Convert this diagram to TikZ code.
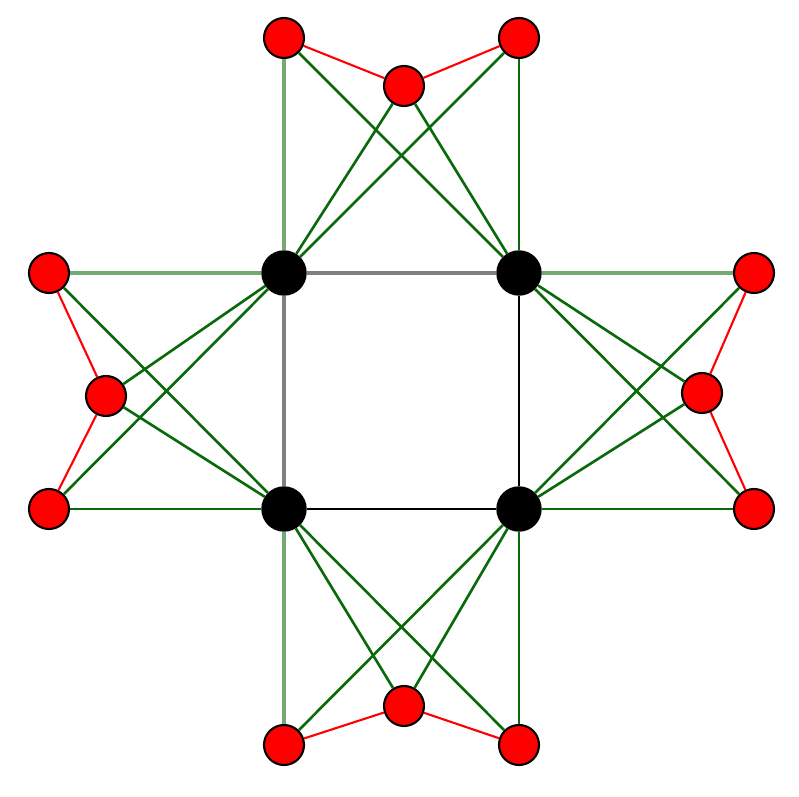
\documentclass[tikz,border=0pt]{standalone}
\usepackage{xcolor}
\usepackage{tikz}
\usetikzlibrary{positioning}

\definecolor{linkgreen}{RGB}{10,105,10}
\definecolor{fadegreen}{RGB}{115,170,115}
\tikzset{
    redpt/.style={circle, fill=red, draw=black, line width=0.6pt, minimum size=0.4cm, inner sep=0pt},
    blackpt/.style={circle, fill=black, draw=black, minimum size=0.44cm, inner sep=0pt},
    link/.style={draw=linkgreen, line width=0.75pt},
    fadelink/.style={draw=fadegreen, line width=1.1pt},
    redlink/.style={draw=red, line width=0.6pt},
    side/.style={draw=black, line width=0.75pt},
    fadeside/.style={draw=gray, line width=1.1pt}
}

\begin{document}
\begin{tikzpicture}
                    \useasboundingbox (0,0) rectangle (7.99,7.96);
                    % Square corners
                    \node[blackpt] (s1) at (2.84,5.23) {};
                    \node[blackpt] (s2) at (5.19,5.23) {};
                    \node[blackpt] (s3) at (2.84,2.87) {};
                    \node[blackpt] (s4) at (5.19,2.87) {};
                    % Top triple
                    \node[redpt] (t1) at (2.84,7.58) {};
                    \node[redpt] (t2) at (4.04,7.10) {};
                    \node[redpt] (t3) at (5.19,7.58) {};
                    % Left triple
                    \node[redpt] (l1) at (0.49,5.23) {};
                    \node[redpt] (l2) at (1.06,4.00) {};
                    \node[redpt] (l3) at (0.49,2.87) {};
                    % Right triple
                    \node[redpt] (r1) at (7.54,5.23) {};
                    \node[redpt] (r2) at (7.02,4.03) {};
                    \node[redpt] (r3) at (7.54,2.87) {};
                    % Bottom triple
                    \node[redpt] (b1) at (2.84,0.51) {};
                    \node[redpt] (b2) at (4.04,0.90) {};
                    \node[redpt] (b3) at (5.19,0.51) {};
                    % Square
                    \draw[fadeside] (s1) -- (s2);
                    \draw[fadeside] (s1) -- (s3);
                    \draw[side] (s2) -- (s4);
                    \draw[side] (s3) -- (s4);
                    % Red chains
                    \draw[redlink] (t1) -- (t2) -- (t3);
                    \draw[redlink] (l1) -- (l2) -- (l3);
                    \draw[redlink] (r1) -- (r2) -- (r3);
                    \draw[redlink] (b1) -- (b2) -- (b3);
                    % Straight links
                    \draw[fadelink] (t1) -- (s1);
                    \draw[link] (t3) -- (s2);
                    \draw[fadelink] (l1) -- (s1);
                    \draw[link] (l3) -- (s3);
                    \draw[fadelink] (r1) -- (s2);
                    \draw[link] (r3) -- (s4);
                    \draw[fadelink] (b1) -- (s3);
                    \draw[link] (b3) -- (s4);
                    % Crossing links
                    \draw[link] (t1) -- (s2);
                    \draw[link] (t3) -- (s1);
                    \draw[link] (t2) -- (s1);
                    \draw[link] (t2) -- (s2);
                    \draw[link] (l1) -- (s3);
                    \draw[link] (l3) -- (s1);
                    \draw[link] (l2) -- (s1);
                    \draw[link] (l2) -- (s3);
                    \draw[link] (r1) -- (s4);
                    \draw[link] (r3) -- (s2);
                    \draw[link] (r2) -- (s2);
                    \draw[link] (r2) -- (s4);
                    \draw[link] (b1) -- (s4);
                    \draw[link] (b3) -- (s3);
                    \draw[link] (b2) -- (s3);
                    \draw[link] (b2) -- (s4);
                \end{tikzpicture}
\end{document}
